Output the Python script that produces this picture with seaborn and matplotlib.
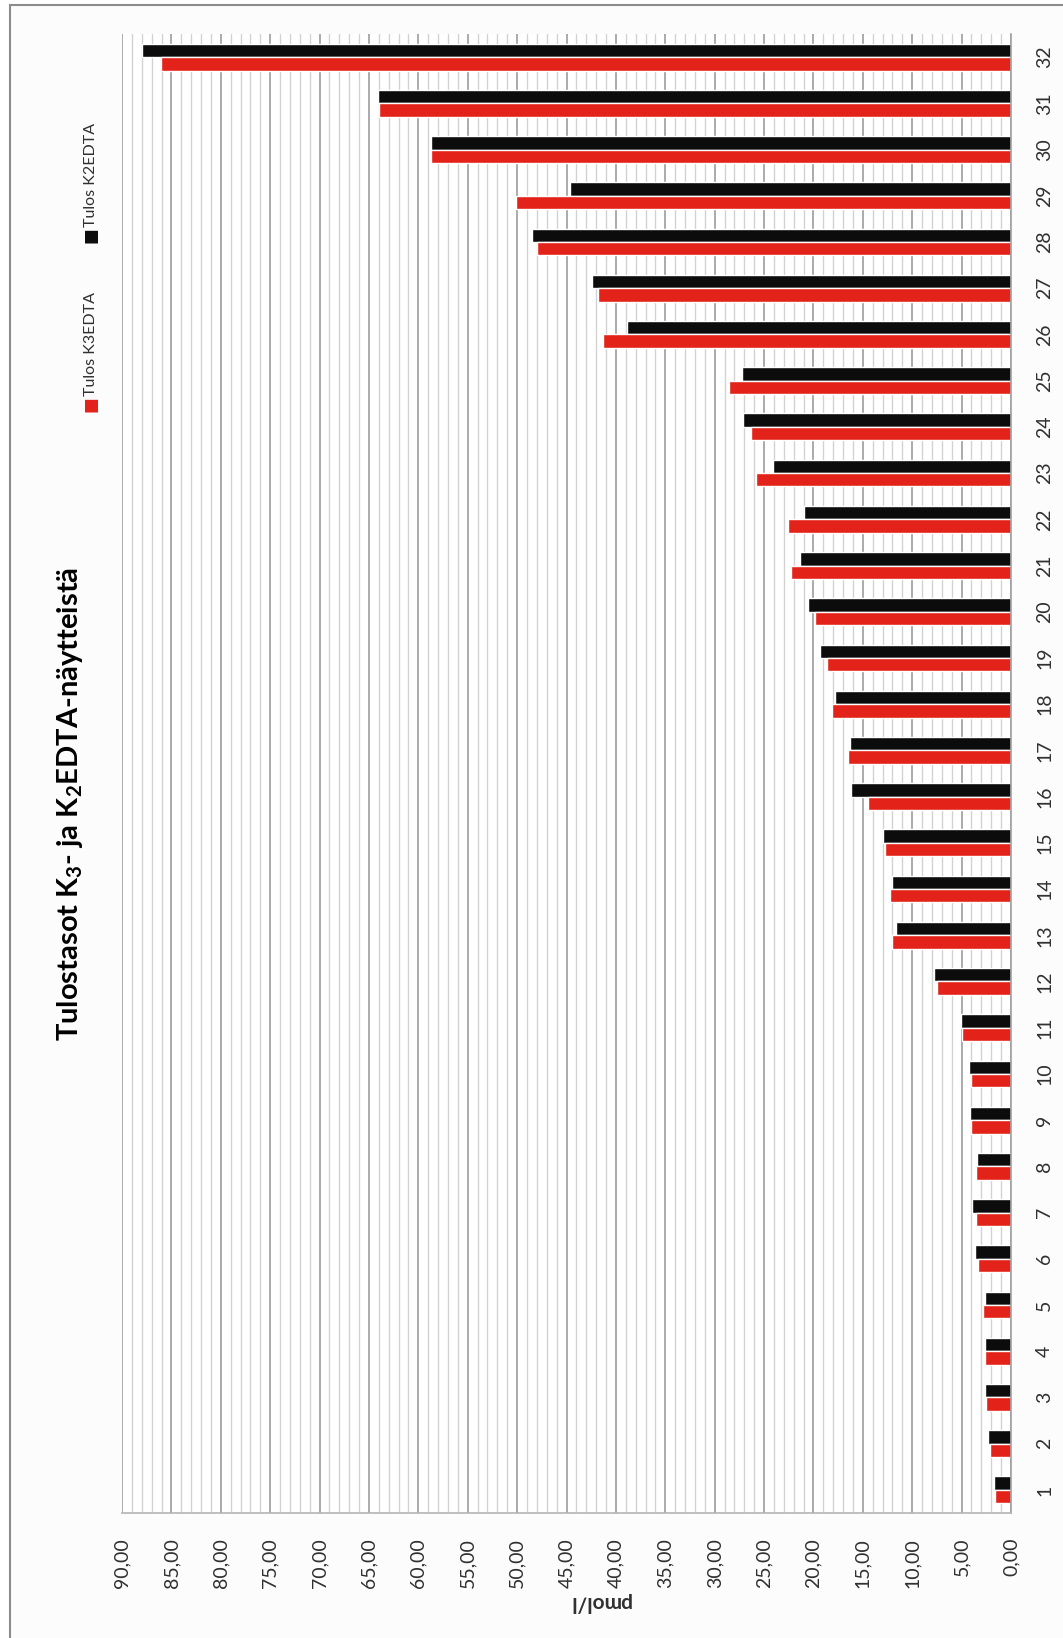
import matplotlib
matplotlib.use("Agg")
import matplotlib.pyplot as plt
from matplotlib.patches import Rectangle
import seaborn as sns
import pandas as pd

# Sample numbers 1..32
samples = [str(i) for i in range(1, 33)]

# Results, pmol/l
k3edta = [1.6, 2.1, 2.5, 2.6, 2.8, 3.3, 3.5, 3.5, 4.1, 4.1,
          5.0, 7.5, 12.0, 12.2, 12.8, 14.5, 16.5, 18.1, 18.6, 19.8,
          22.3, 22.6, 25.8, 26.3, 28.5, 41.3, 41.8, 48.0, 50.1, 58.7,
          64.0, 86.1]
k2edta = [1.7, 2.3, 2.6, 2.6, 2.6, 3.6, 3.9, 3.4, 4.2, 4.3,
          5.1, 7.8, 11.6, 12.0, 13.0, 16.2, 16.3, 17.8, 19.3, 20.6,
          21.4, 21.0, 24.1, 27.1, 27.2, 38.9, 42.4, 48.5, 44.6, 58.7,
          64.1, 88.0]

series_k3 = "Tulos K3EDTA"
series_k2 = "Tulos K2EDTA"
value_ticks = list(range(0, 91, 5))

df = pd.DataFrame({
    "nayte": samples * 2,
    "tulos": k3edta + k2edta,
    "sarja": [series_k3] * len(samples) + [series_k2] * len(samples),
})

RED = "#e3221a"
BLACK = "#0c0c0c"
FONT = ["Lato", "DejaVu Sans"]

sns.set_theme(style="white")
plt.rcParams["font.family"] = FONT
plt.rcParams["mathtext.fontset"] = "custom"
plt.rcParams["mathtext.rm"] = "Lato"
plt.rcParams["mathtext.bf"] = "Lato:bold"

fig = plt.figure(figsize=(10.63, 16.38), dpi=100)
fig.patch.set_facecolor("white")

# page frame (light panel with grey border on top/left)
fig.patches.append(Rectangle((10 / 1063, -0.01), 1.05, 1 - 5 / 1638 + 0.01,
                             transform=fig.transFigure, facecolor="#fcfcfc",
                             edgecolor="#8c8c8c", linewidth=1.5, zorder=-5))

ax = fig.add_axes([122 / 1063, 1 - 1513 / 1638, 889 / 1063, 1479 / 1638])
ax.set_zorder(1)
ax.set_facecolor("white")

# vertical grid: every unit, stronger every five
for v in range(0, 91):
    major = v % 5 == 0
    ax.axvline(v, color="#939393" if major else "#d2d2d2",
               lw=1.1 if major else 1.0, zorder=0)

sns.barplot(data=df, y="nayte", x="tulos", hue="sarja",
            order=samples[::-1], hue_order=[series_k2, series_k3],
            palette={series_k3: RED, series_k2: BLACK},
            orient="h", width=0.58, saturation=1, legend=False,
            ax=ax, zorder=2)

ax.set_xlim(90, 0)
ax.set_xticks(value_ticks)
ax.set_xticklabels([f"{v:.2f}".replace(".", ",") for v in value_ticks],
                   rotation=90, fontsize=14, color="#303030")
ax.yaxis.tick_right()
ax.set_yticks(range(len(samples)))
ax.set_yticklabels(samples[::-1], rotation=90, fontsize=14,
                   color="#303030", va="center", ha="left")
ax.tick_params(axis="x", length=0, pad=18)
ax.tick_params(axis="y", length=0, pad=18)
ax.set_xlabel("")
ax.set_ylabel("")

for side in ["top", "left"]:
    ax.spines[side].set_visible(False)
ax.spines["right"].set_color("#a0a0a0")
ax.spines["bottom"].set_color("#b4b4b4")
ax.spines["right"].set_linewidth(1.2)
ax.spines["bottom"].set_linewidth(1.2)

fig.text(70 / 1063, 1 - 804 / 1638,
         r"Tulostasot K$_\mathbf{3}$- ja K$_\mathbf{2}$EDTA-näytteistä",
         rotation=90, ha="center", va="center", fontsize=21,
         fontweight="bold", color="#000000")

fig.text(600 / 1063, 1 - 1602 / 1638, "pmol/l", rotation=180,
         ha="center", va="center", fontsize=15, fontweight="bold",
         color="#303030")

# legend, turned with the chart
fig.text(90 / 1063, 1 - 404 / 1638, "■", rotation=90, ha="center",
         va="center", fontsize=12, color=RED, family=["DejaVu Sans"])
fig.text(91 / 1063, 1 - 396 / 1638, series_k3, rotation=90, ha="center",
         va="bottom", fontsize=11.5, color="#303030")
fig.text(90 / 1063, 1 - 235 / 1638, "■", rotation=90, ha="center",
         va="center", fontsize=12, color=BLACK, family=["DejaVu Sans"])
fig.text(91 / 1063, 1 - 227 / 1638, series_k2, rotation=90, ha="center",
         va="bottom", fontsize=11.5, color="#303030")

fig.savefig("out.png", dpi=100, facecolor="white")
